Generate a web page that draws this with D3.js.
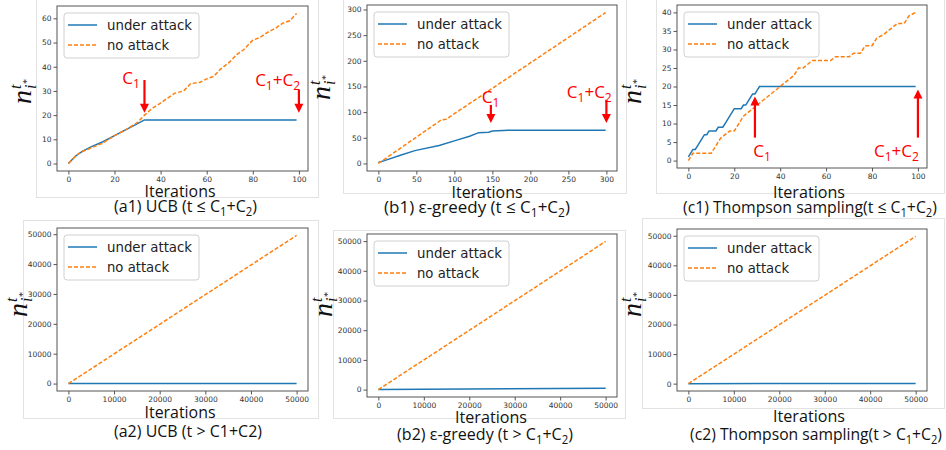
<!DOCTYPE html>
<html>
<head>
<meta charset="utf-8">
<script src="https://cdn.jsdelivr.net/npm/d3@7"></script>
<style>
  body { margin: 0; background: #fff; }
  svg { display: block; }
</style>
</head>
<body>
<svg width="946" height="450"></svg>
<script>
// ---- values: [iteration, n] ----
// short horizon (t <= C1+C2)
const ucbAttackShort = [[0,0],[3,3],[6,5],[10,7],[15,9],[20,11.5],[25,14],[30,16.5],[33,18],[99,18]];
const ucbCleanShort = [[0,0],[3,3],[5,4.5],[10,6.5],[15,8.5],[20,11.5],[25,14],[30,17],[33,20],[36,22.5],[40,25],
  [43,27],[46,29],[50,30],[53,33],[57,33.5],[60,35],[63,36],[66,39],[70,42],[73,45],[76,47],[80,51],[83,52],
  [86,54],[90,56],[93,58],[96,59],[99,62]];
const egAttackShort = [[0,2],[9,6],[29,16],[48,25],[80,35],[102,45],[120,53],[132,60],[145,61],[150,63],[171,64.5],[299,64.5]];
const egCleanShort = [[0,0],[83,85],[89,86],[299,294]];
const tsAttackShort = [[0,1],[1,2],[2,3],[3,3],[4,4],[5,5],[6,6],[7,7],[8,7],[9,8],[12,8],[13,9],[15,9],[16,10],
  [17,11],[18,12],[19,13],[20,14],[23,14],[24,15],[25,15],[26,16],[27,17],[28,18],[29,18],[30,19],[31,20],[99,20]];
const tsCleanShort = [[0,0],[2,2],[10,2],[12,4],[14,6],[16,7],[18,8],[20,8],[22,10],[24,12],[26,13],[28,14],[30,15],
  [32,16],[34,17],[36,18],[38,19],[40,20],[42,21],[44,22],[46,23],[48,25],[50,25],[52,26],[54,27],[56,27],[62,27],
  [64,28],[70,28],[72,29],[75,29],[77,31],[80,31],[82,33],[85,34],[87,35],[89,36],[91,37],[94,37],[96,39],[99,40]];

// long horizon (t > C1+C2)
const ucbAttackLong = [[0,0],[49999,18]];
const ucbCleanLong = [[0,0],[49999,49600]];
const egAttackLong = [[0,2],[49999,450]];
const egCleanLong = [[0,0],[49999,49900]];
const tsAttackLong = [[0,1],[49999,20]];
const tsCleanLong = [[0,0],[49999,49800]];

// tick labels
const ticks100 = [0, 20, 40, 60, 80, 100];
const ticks300 = [0, 50, 100, 150, 200, 250, 300];
const ticksUcbY = [0, 10, 20, 30, 40, 50, 60];
const ticksTsY = [0, 5, 10, 15, 20, 25, 30, 35, 40];
const ticksLong = [0, 10000, 20000, 30000, 40000, 50000];

const seriesNames = ["under attack", "no attack"];

// C1 / C1+C2 markers, in data units
const ucbArrows = [{at: 33, from: 34.5, to: 21, text: "C_1", tx: 31, ty: 33, anchor: "end"},
                   {at: 100, from: 30.5, to: 21, text: "C_1+C_2", tx: 100.5, ty: 32, anchor: "end"}];
const egArrows = [{at: 148, from: 114, to: 79, text: "C_1", tx: 147.5, ty: 118, anchor: "middle"},
                  {at: 300, from: 124, to: 79, text: "C_1+C_2", tx: 277.5, ty: 128, anchor: "middle"}];
const tsArrows = [{at: 29, from: 6.2, to: 17.3, text: "C_1", tx: 28.3, ty: 1.1, anchor: "start"},
                  {at: 100, from: 6.2, to: 19.2, text: "C_1+C_2", tx: 100.4, ty: 1.1, anchor: "end"}];

// ---- layout of the six panels ----
const panels = [
  {attack: ucbAttackShort, clean: ucbCleanShort, xTicks: ticks100, yTicks: ticksUcbY, arrows: ucbArrows,
   card: [36, -2, 318, 197], frame: [57, 6, 308, 171], ylab: [31, 90], iter: [180, 197, 71],
   caption: "(a1) UCB (t ≤ C_1+C_2)", cap: [185.5, 212, 143]},
  {attack: egAttackShort, clean: egCleanShort, xTicks: ticks300, yTicks: ticks300, arrows: egArrows,
   card: [343, -2, 626, 193], frame: [367, 5, 617, 171], ylab: [330, 86], iter: [487, 198, 71],
   caption: "(b1) ε-greedy (t ≤ C_1+C_2)", cap: [477, 213, 186]},
  {attack: tsAttackShort, clean: tsCleanShort, xTicks: ticks100, yTicks: ticksTsY, arrows: tsArrows,
   card: [656, -2, 944, 193], frame: [677, 5, 927, 168], ylab: [641, 90], iter: [809, 198, 72],
   caption: "(c1) Thompson sampling(t ≤ C_1+C_2)", cap: [810, 213, 254]},
  {attack: ucbAttackLong, clean: ucbCleanLong, xTicks: ticksLong, yTicks: ticksLong, arrows: [],
   card: [23, 220, 318, 418], frame: [57, 228, 308, 391], ylab: [27, 303], iter: [180, 418, 71],
   caption: "(a2) UCB (t > C1+C2)", cap: [188, 437, 148]},
  {attack: egAttackLong, clean: egCleanLong, xTicks: ticksLong, yTicks: ticksLong, arrows: [],
   card: [333, 230, 625, 418], frame: [367, 234, 617, 397], ylab: [332, 303], iter: [491, 423, 72],
   caption: "(b2) ε-greedy (t > C_1+C_2)", cap: [485, 440, 176]},
  {attack: tsAttackLong, clean: tsCleanLong, xTicks: ticksLong, yTicks: ticksLong, arrows: [],
   card: [642, 218, 944, 408], frame: [677, 229, 927, 391], ylab: [641, 303], iter: [809, 422, 72],
   caption: "(c2) Thompson sampling(t > C_1+C_2)", cap: [816, 440, 252]}
];

const blue = "#1f77b4", orange = "#ff7f0e", red = "#ff0000";
const svg = d3.select("svg");

// text with "_1" style subscripts
function richText(sel, str, size, subSize) {
  const parts = str.split(/_(\d)/);
  parts.forEach((s, i) => {
    if (s === "") return;
    const sub = i % 2 === 1;
    sel.append("tspan")
      .attr("font-size", sub ? subSize : size)
      .attr("dy", sub ? 4 : (i > 0 && parts[i - 1] !== undefined && i % 2 === 0 ? -4 : 0))
      .text(s);
  });
  return sel;
}

// squeeze text horizontally to the width seen in the picture
function fitWidth(sel, x, y, target) {
  const w = sel.node().getBBox().width;
  sel.attr("transform", `translate(${x},${y}) scale(${target / w},1)`);
}

panels.forEach(p => {
  const g = svg.append("g");
  const [l, t, r, b] = p.frame;

  // the screenshot card behind each plot
  g.append("rect")
    .attr("x", p.card[0] + 0.5).attr("y", p.card[1] + 0.5)
    .attr("width", p.card[2] - p.card[0]).attr("height", p.card[3] - p.card[1])
    .attr("fill", "#fff").attr("stroke", "#e2e2e2");

  // matplotlib style autoscale with 5% margins
  const all = p.attack.concat(p.clean);
  const xe = d3.extent(all, d => d[0]), ye = d3.extent(all, d => d[1]);
  const xm = (xe[1] - xe[0]) * 0.05, ym = (ye[1] - ye[0]) * 0.05;
  const x = d3.scaleLinear().domain([xe[0] - xm, xe[1] + xm]).range([l, r]);
  const y = d3.scaleLinear().domain([ye[0] - ym, ye[1] + ym]).range([b, t]);

  const xAxis = g.append("g").attr("transform", `translate(0,${b})`)
    .call(d3.axisBottom(x).tickValues(p.xTicks).tickSize(3.5).tickPadding(2).tickFormat(d3.format("d")));
  const yAxis = g.append("g").attr("transform", `translate(${l},0)`)
    .call(d3.axisLeft(y).tickValues(p.yTicks).tickSize(3.5).tickPadding(2).tickFormat(d3.format("d")));
  [xAxis, yAxis].forEach(a => {
    a.select(".domain").remove();
    a.selectAll("line").attr("stroke", "#555");
    a.selectAll("text").attr("font-family", "DejaVu Sans").attr("font-size", 7.5).attr("fill", "#333");
  });

  const line = d3.line().x(d => x(d[0])).y(d => y(d[1]));
  g.append("path").datum(p.attack).attr("d", line)
    .attr("fill", "none").attr("stroke", blue).attr("stroke-width", 1.5);
  g.append("path").datum(p.clean).attr("d", line)
    .attr("fill", "none").attr("stroke", orange).attr("stroke-width", 1.5).attr("stroke-dasharray", "4,2");

  // frame
  g.append("rect").attr("x", l).attr("y", t).attr("width", r - l).attr("height", b - t)
    .attr("fill", "none").attr("stroke", "#555").attr("stroke-width", 1);

  // legend
  const lg = g.append("g").attr("transform", `translate(${l + 7},${t + 7})`);
  lg.append("rect").attr("width", 135).attr("height", 45).attr("rx", 3)
    .attr("fill", "#fff").attr("fill-opacity", 0.85).attr("stroke", "#d0d0d0");
  seriesNames.forEach((name, i) => {
    const yy = 12 + i * 20;
    lg.append("line").attr("x1", 4).attr("x2", 33).attr("y1", yy).attr("y2", yy)
      .attr("stroke", i ? orange : blue).attr("stroke-width", 1.5)
      .attr("stroke-dasharray", i ? "4,2" : null);
    const tx = lg.append("text").attr("font-family", "DejaVu Sans").attr("font-size", 14)
      .attr("fill", "#222").attr("dy", "0.35em").text(name);
    fitWidth(tx, 43, yy, i ? 63 : 86);
  });

  // C1 / C1+C2 arrows
  p.arrows.forEach(a => {
    const ax = x(a.at), y0 = y(a.from), y1 = y(a.to);
    const dir = Math.sign(y1 - y0);
    g.append("line").attr("x1", ax).attr("x2", ax).attr("y1", y0).attr("y2", y1 - dir * 7)
      .attr("stroke", red).attr("stroke-width", 2.2);
    g.append("path")
      .attr("d", `M${ax - 4.5},${y1 - dir * 9}L${ax + 4.5},${y1 - dir * 9}L${ax},${y1}Z`)
      .attr("fill", red);
    const lt = g.append("text").attr("x", x(a.tx)).attr("y", y(a.ty))
      .attr("text-anchor", a.anchor).attr("font-family", "Open Sans").attr("fill", red);
    richText(lt, a.text, 17, 12);
  });

  // y label  n_{i*}^t
  const yl = g.append("g").attr("transform", `translate(${p.ylab[0]},${p.ylab[1]}) rotate(-90)`)
    .attr("font-family", "Liberation Serif").attr("font-style", "italic").attr("fill", "#111");
  yl.append("text").attr("x", -14).attr("y", 0).attr("font-size", 28).text("n");
  yl.append("text").attr("x", 1).attr("y", -10).attr("font-size", 16).text("t");
  yl.append("text").attr("x", 1).attr("y", 5).attr("font-size", 16).text("i");
  yl.append("text").attr("x", 5.5).attr("y", -1).attr("font-size", 10).text("*");

  // x label
  const it = g.append("text").attr("text-anchor", "middle").attr("font-family", "Open Sans")
    .attr("font-size", 17).attr("fill", "#111").text("Iterations");
  fitWidth(it, p.iter[0], p.iter[1], p.iter[2]);

  // caption
  const cp = g.append("text").attr("text-anchor", "middle").attr("font-family", "Open Sans")
    .attr("font-size", 17).attr("fill", "#111");
  richText(cp, p.caption, 17, 12);
  fitWidth(cp, p.cap[0], p.cap[1], p.cap[2]);
});
</script>
</body>
</html>
